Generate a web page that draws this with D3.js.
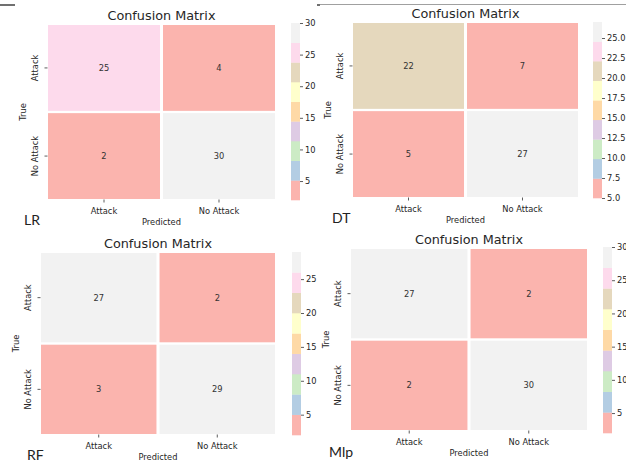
<!DOCTYPE html>
<html>
<head>
<meta charset="utf-8">
<script src="https://cdn.jsdelivr.net/npm/d3@7"></script>
<style>
  html, body { margin: 0; padding: 0; background: #fff; }
  svg { display: block; }
  text { font-family: "DejaVu Sans", sans-serif; fill: #262626; }
</style>
</head>
<body>
<script>
// Class labels shared by every matrix (rows = true, columns = predicted)
const classLabels = ["Attack", "No Attack"];
const modelNames = ["LR", "DT", "RF", "Mlp"];

// Confusion counts per model
const lrMatrix = [[25, 4], [2, 30]];
const dtMatrix = [[22, 7], [5, 27]];
const rfMatrix = [[27, 2], [3, 29]];
const mlpMatrix = [[27, 2], [2, 30]];

// Colorbar tick values per model
const lrTicks = [5, 10, 15, 20, 25, 30];
const dtTicks = [5, 7.5, 10, 12.5, 15, 17.5, 20, 22.5, 25];
const rfTicks = [5, 10, 15, 20, 25];
const mlpTicks = [5, 10, 15, 20, 25, 30];
const tickFormats = ["d", ".1f", "d", "d"];

const matrices = [lrMatrix, dtMatrix, rfMatrix, mlpMatrix];
const tickSets = [lrTicks, dtTicks, rfTicks, mlpTicks];

// Placement of each panel on the page (heatmap box, colorbar box, name tag)
const layouts = [
  { hx0: 48,  hx1: 275, hy0: 25,  hy1: 199, cx0: 291, cx1: 300, cy0: 23,  cy1: 200, nameX: 24,  nameY: 225 },
  { hx0: 353, hx1: 578, hy0: 23,  hy1: 197, cx0: 593, cx1: 602, cy0: 22,  cy1: 198, nameX: 332, nameY: 223 },
  { hx0: 41,  hx1: 275, hy0: 253, hy1: 434, cx0: 292, cx1: 301, cy0: 252, cy1: 435, nameX: 27,  nameY: 460 },
  { hx0: 351, hx1: 587, hy0: 249, hy1: 430, cx0: 603, cx1: 612, cy0: 247, cy1: 433, nameX: 329, nameY: 457 }
];

const W = 626, H = 464;
const svg = d3.select("body").append("svg")
  .attr("width", W).attr("height", H)
  .attr("viewBox", `0 0 ${W} ${H}`);

// Page rules along the top edge
svg.append("line").attr("x1", 0).attr("x2", 15).attr("y1", 5).attr("y2", 5)
  .attr("stroke", "#222").attr("stroke-width", 1.3);
svg.append("line").attr("x1", 320).attr("x2", W).attr("y1", 4.5).attr("y2", 4.5)
  .attr("stroke", "#a0a0a0").attr("stroke-width", 1);
svg.append("line").attr("x1", 317).attr("x2", 320).attr("y1", 5).attr("y2", 5)
  .attr("stroke", "#222").attr("stroke-width", 1.3);

const labelSize = 8.3;
const palette = d3.schemePastel1;

function drawPanel(matrix, ticks, fmt, name, L) {
  const g = svg.append("g");
  const values = matrix.flat();
  const [vmin, vmax] = d3.extent(values);
  const color = d3.scaleQuantize().domain([vmin, vmax]).range(palette);

  const x = d3.scaleBand().domain(classLabels).range([L.hx0, L.hx1]).paddingInner(0.026);
  const y = d3.scaleBand().domain(classLabels).range([L.hy0, L.hy1]).paddingInner(0.026);

  const cells = [];
  matrix.forEach((row, i) => row.forEach((v, j) => cells.push({ t: classLabels[i], p: classLabels[j], v })));

  g.selectAll("rect.cell").data(cells).join("rect")
    .attr("class", "cell")
    .attr("x", d => x(d.p)).attr("y", d => y(d.t))
    .attr("width", x.bandwidth()).attr("height", y.bandwidth())
    .attr("fill", d => color(d.v));

  g.selectAll("text.annot").data(cells).join("text")
    .attr("class", "annot")
    .attr("x", d => x(d.p) + x.bandwidth() / 2)
    .attr("y", d => y(d.t) + y.bandwidth() / 2)
    .attr("text-anchor", "middle").attr("dominant-baseline", "central")
    .attr("font-size", labelSize)
    .style("fill", "#333")
    .text(d => d.v);

  // Title
  g.append("text")
    .attr("x", (L.hx0 + L.hx1) / 2).attr("y", L.hy0 - 5.5)
    .attr("text-anchor", "middle").attr("font-size", 12.8)
    .text("Confusion Matrix");

  // Row (true) ticks and labels
  classLabels.forEach(c => {
    const cy = y(c) + y.bandwidth() / 2;
    g.append("line").attr("x1", L.hx0 - 3.5).attr("x2", L.hx0 - 0.5)
      .attr("y1", cy).attr("y2", cy).attr("stroke", "#333").attr("stroke-width", 0.8);
    g.append("text")
      .attr("transform", `translate(${L.hx0 - 10},${cy}) rotate(-90)`)
      .attr("text-anchor", "middle").attr("font-size", labelSize)
      .text(c);
  });
  g.append("text")
    .attr("transform", `translate(${L.hx0 - 22},${(L.hy0 + L.hy1) / 2}) rotate(-90)`)
    .attr("text-anchor", "middle").attr("font-size", labelSize)
    .text("True");

  // Column (predicted) ticks and labels
  classLabels.forEach(c => {
    const cx = x(c) + x.bandwidth() / 2;
    g.append("line").attr("y1", L.hy1 + 0.5).attr("y2", L.hy1 + 3.5)
      .attr("x1", cx).attr("x2", cx).attr("stroke", "#333").attr("stroke-width", 0.8);
    g.append("text")
      .attr("x", cx).attr("y", L.hy1 + 14.5)
      .attr("text-anchor", "middle").attr("font-size", labelSize)
      .text(c);
  });
  g.append("text")
    .attr("x", (L.hx0 + L.hx1) / 2).attr("y", L.hy1 + 26)
    .attr("text-anchor", "middle").attr("font-size", labelSize)
    .text("Predicted");

  // Colorbar: nine equal bands of the qualitative palette
  const cScale = d3.scaleLinear().domain([vmin, vmax]).range([L.cy1, L.cy0]);
  const step = (vmax - vmin) / palette.length;
  const bands = d3.range(palette.length).map(k => ({ lo: vmin + k * step, hi: vmin + (k + 1) * step }));
  g.selectAll("rect.cbar").data(bands).join("rect")
    .attr("class", "cbar")
    .attr("x", L.cx0).attr("width", L.cx1 - L.cx0)
    .attr("y", d => cScale(d.hi)).attr("height", d => cScale(d.lo) - cScale(d.hi) + 0.3)
    .attr("fill", d => color((d.lo + d.hi) / 2));

  const axis = d3.axisRight(cScale).tickValues(ticks).tickFormat(d3.format(fmt))
    .tickSize(3).tickPadding(2);
  const ag = g.append("g").attr("transform", `translate(${L.cx1},0)`).call(axis);
  ag.select(".domain").remove();
  ag.selectAll(".tick line").attr("stroke", "#333").attr("stroke-width", 0.8);
  ag.selectAll(".tick text").attr("font-size", labelSize)
    .attr("font-family", "DejaVu Sans, sans-serif").style("fill", "#262626");

  // Model name tag
  g.append("text")
    .attr("x", L.nameX).attr("y", L.nameY)
    .attr("font-size", 14)
    .style("font-family", "Lato, 'Liberation Sans', sans-serif")
    .style("fill", "#222")
    .text(name);
}

matrices.forEach((m, i) => drawPanel(m, tickSets[i], tickFormats[i], modelNames[i], layouts[i]));
</script>
</body>
</html>
